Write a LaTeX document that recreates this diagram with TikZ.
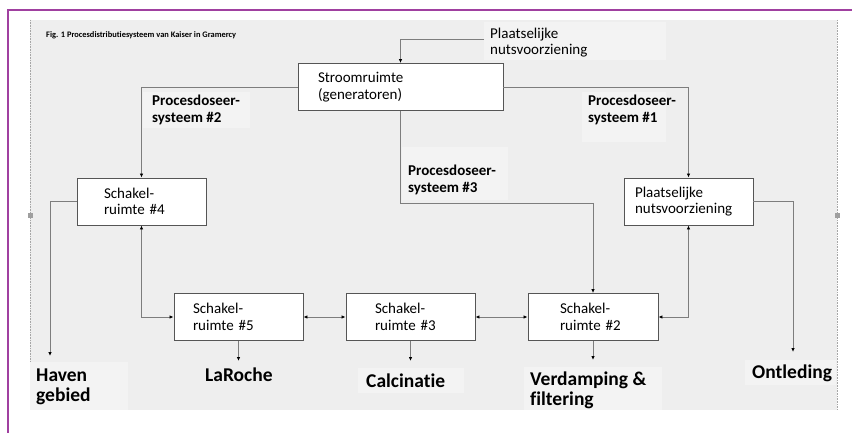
\documentclass[tikz,border=0pt]{standalone}
\usepackage{fontspec}
\setmainfont{Carlito}[Ligatures=NoCommon]
\usetikzlibrary{arrows.meta}
\definecolor{bgray}{RGB}{238,238,238}
\definecolor{lblbg}{RGB}{243,243,243}
\definecolor{framec}{RGB}{160,64,160}
\definecolor{linec}{RGB}{125,125,125}
\definecolor{boxline}{RGB}{85,85,85}
\begin{document}
\begin{tikzpicture}[x=1pt,y=-1pt,
  box/.style={draw=boxline, fill=white, line width=0.9pt, minimum height=47pt, align=left, font=\fontsize{15}{16.5}\selectfont, inner ysep=0pt},
  conn/.style={draw=linec, line width=0.8pt, -{Latex[length=4pt,width=3.5pt,color=black]}},
  biconn/.style={draw=linec, line width=0.8pt, {Latex[length=4pt,width=3.5pt,color=black]}-{Latex[length=4pt,width=3.5pt,color=black]}},
  plainline/.style={draw=linec, line width=0.8pt},
  lbl/.style={font=\bfseries\fontsize{15}{16.5}\selectfont, align=left, inner sep=0pt, anchor=west},
  biglbl/.style={font=\bfseries\fontsize{19.5}{20.5}\selectfont, align=left, inner sep=0pt, anchor=west},
  lblbox/.style={fill=lblbg, draw=none}
]
\useasboundingbox (0,0) rectangle (852,433);
% frame and background
\fill[white] (0,0) rectangle (852,433);
\fill[bgray] (30,20) rectangle (837,410);
\draw[densely dotted, gray!70, line width=0.6pt] (30,20) -- (30,410);
\draw[densely dotted, gray!70, line width=0.6pt] (837,20) -- (837,410);
\fill[gray!75] (28,213) rectangle (33,218);
\fill[gray!75] (835,213) rectangle (840,218);
\draw[framec, line width=2pt] (852,10) -- (8,10) -- (8,433);

% label backgrounds
\fill[lblbox] (484,22) rectangle (666,60);
\fill[lblbox] (143,92) rectangle (250,128);
\fill[lblbox] (582,92) rectangle (666,142);
\fill[lblbox] (402,147) rectangle (508,200);
\fill[lblbox] (30,362) rectangle (128,410);
\fill[lblbox] (358,368) rectangle (464,393);
\fill[lblbox] (524,367) rectangle (662,410);
\fill[lblbox] (745,360) rectangle (836,385);

% title
\node[font=\bfseries\fontsize{8.4}{9}\selectfont, anchor=west, inner sep=0pt] (title) at (46,35) {Fig. 1 Procesdistributiesysteem van Kaiser in Gramercy};

% boxes
\node[box, text width=165pt, inner xsep=20pt] (stroom) at (400.5,87) {Stroomruimte\\(generatoren)};
\node[box, text width=75pt, inner xsep=27pt] (s4) at (141.5,201.5) {Schakel-\\ruimte \#4};
\node[box, text width=107pt, inner xsep=11pt] (pl) at (688.5,201.5) {Plaatselijke\\nutsvoorziening};
\node[box, text width=91pt, inner xsep=19pt] (s5) at (238.5,317) {Schakel-\\ruimte \#5};
\node[box, text width=71pt, inner xsep=29pt] (s3) at (410.5,317) {Schakel-\\ruimte \#3};
\node[box, text width=66pt, inner xsep=32pt] (s2) at (593,317) {Schakel-\\ruimte \#2};

% labels
\node[font=\fontsize{15}{16.5}\selectfont, align=left, anchor=west, inner sep=0pt] (lblTop) at (490,42.5) {Plaatselijke\\nutsvoorziening};
\node[lbl] (pd2) at (152,110) {Procesdoseer-\\systeem \#2};
\node[lbl] (pd1) at (588,110) {Procesdoseer-\\systeem \#1};
\node[lbl] (pd3) at (408,180) {Procesdoseer-\\systeem \#3};
\node[biglbl] (haven) at (36,387) {Haven\\gebied};
\node[biglbl] (laroche) at (205,375) {LaRoche};
\node[biglbl] (calc) at (366,381) {Calcinatie};
\node[biglbl] (verd) at (530,390.5) {Verdamping \&\\filtering};
\node[biglbl] (ontl) at (752,373) {Ontleding};

% connector end points
\coordinate (topIn) at (484,39);
\coordinate (bend3) at (593,203);
\coordinate (havenIn) at (50,356);
\coordinate (ontlIn) at (793,352);
\coordinate (lrIn) at (238.5,361);
\coordinate (calcIn) at (410.5,361);
\coordinate (verdIn) at (593,360);

% connectors
\draw[conn] (topIn) -| (stroom.north);
\draw[conn] (stroom.west) -| (s4.north);
\draw[conn] (stroom.east) -| (pl.north);
\draw[plainline] (stroom.south) |- (bend3);
\draw[conn] (bend3) -- (s2.north);
\draw[conn] (s4.west) -| (havenIn);
\draw[biconn] (s4.south) |- (s5.west);
\draw[biconn] (s5.east) -- (s3.west);
\draw[biconn] (s3.east) -- (s2.west);
\draw[biconn] (pl.south) |- (s2.east);
\draw[conn] (pl.east) -| (ontlIn);
\draw[conn] (s5.south) -- (lrIn);
\draw[conn] (s3.south) -- (calcIn);
\draw[conn] (s2.south) -- (verdIn);
\end{tikzpicture}
\end{document}
